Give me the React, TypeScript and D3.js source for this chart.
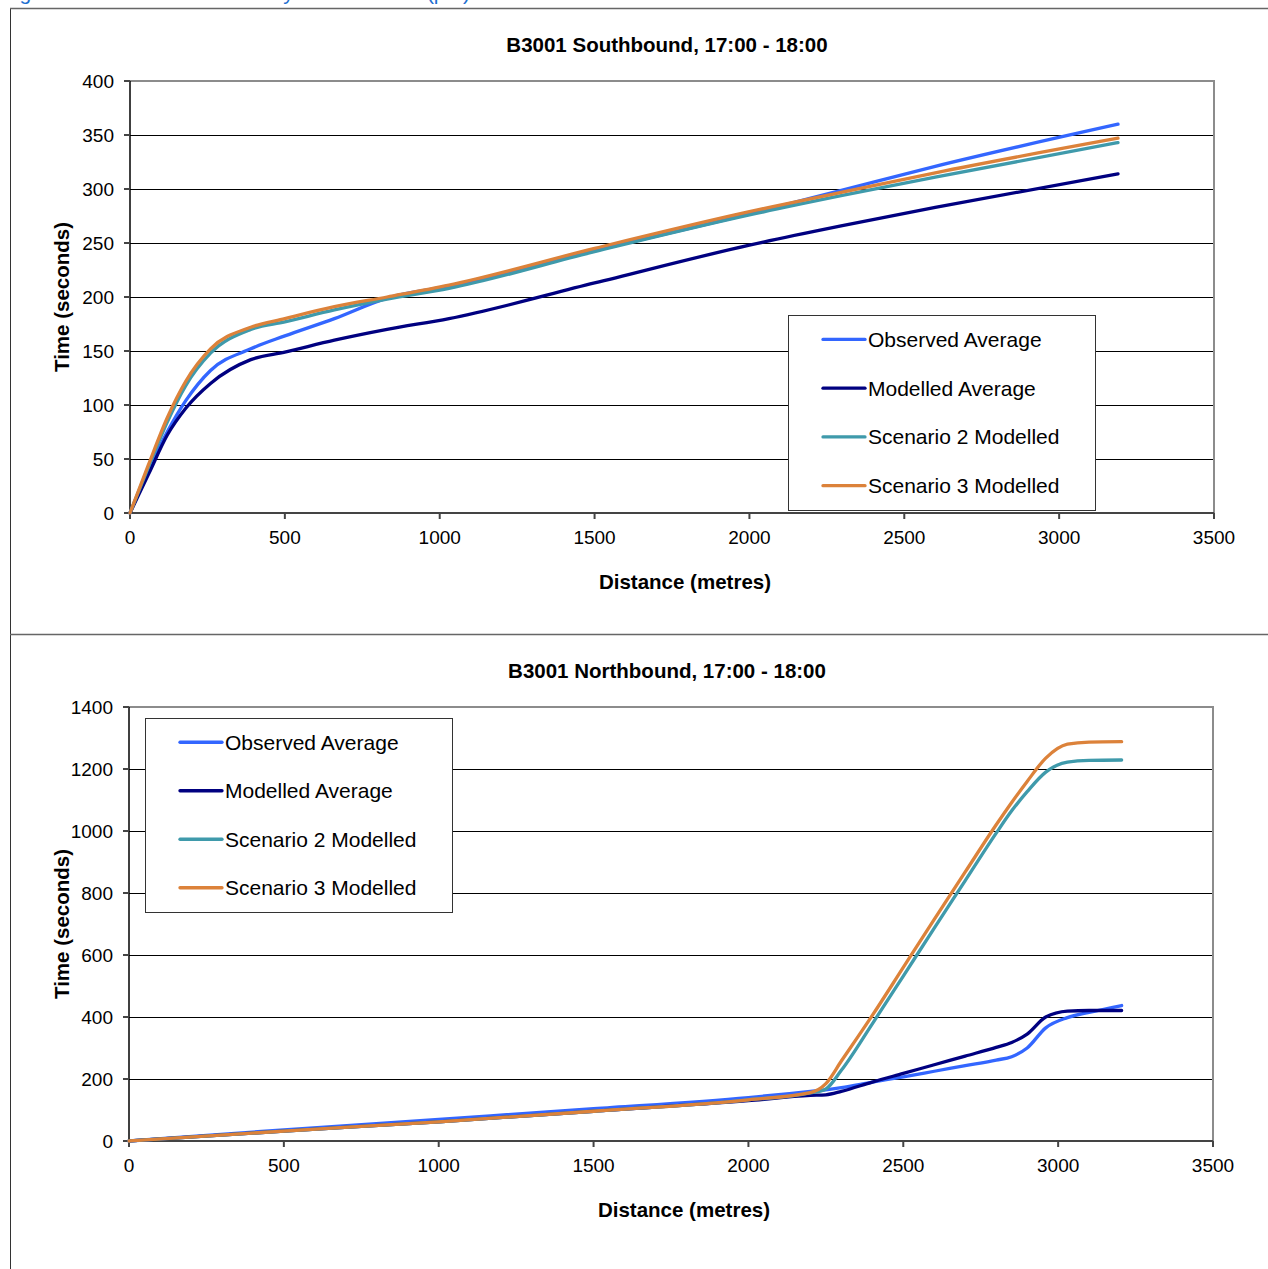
import React from "react";
import * as d3 from "d3";

const seriesNames = ["Observed Average", "Modelled Average", "Scenario 2 Modelled", "Scenario 3 Modelled"];
const seriesColors = ["#3366ff", "#000080", "#3f9aab", "#dc823a"];

// Southbound
const sbTitle = "B3001 Southbound, 17:00 - 18:00";
const sbDist = [0, 60, 120, 180, 260, 390, 500, 660, 830, 1030, 1500, 2000, 2300, 2600, 3190];
const sbObserved = [0, 40, 75, 104, 132, 152, 164, 180, 199, 210, 243, 277, 299, 321, 360];
const sbModelled = [0, 36, 72, 97, 120, 142, 149, 160, 170, 180, 213, 248, 266, 283, 314];
const sbScen2 = [0, 43, 84, 118, 148, 170, 177, 188, 198, 208, 242, 276, 294, 311, 343];
const sbScen3 = [0, 45, 88, 122, 152, 172, 180, 191, 200, 211, 245, 279, 297, 315, 347];
const sbYTicks = [0, 50, 100, 150, 200, 250, 300, 350, 400];

// Northbound
const nbTitle = "B3001 Northbound, 17:00 - 18:00";
const nbDist = [0, 500, 1000, 1500, 2000, 2200, 2250, 2300, 2400, 2500, 2600, 2700, 2800, 2850, 2900, 2960, 3030, 3100, 3205];
const nbObserved = [0, 36, 70, 104, 140, 160, 165, 172, 190, 207, 225, 243, 261, 272, 300, 365, 398, 415, 437];
const nbModelled = [0, 32, 62, 96, 130, 147, 149, 160, 190, 218, 246, 274, 302, 318, 345, 400, 419, 421, 421];
const nbScen2 = [0, 32, 62, 96, 133, 155, 168, 228, 378, 532, 687, 840, 993, 1065, 1127, 1190, 1222, 1228, 1229];
const nbScen3 = [0, 32, 62, 96, 133, 156, 185, 258, 405, 560, 715, 868, 1020, 1092, 1160, 1235, 1280, 1287, 1288];
const nbYTicks = [0, 200, 400, 600, 800, 1000, 1200, 1400];

const xTicks = [0, 500, 1000, 1500, 2000, 2500, 3000, 3500];

const FONT = "'Liberation Sans', Arial, sans-serif";

type ChartProps = {
  title: string;
  dist: number[];
  series: number[][];
  yTicks: number[];
  yMax: number;
  frameTop: number;
  plot: { x0: number; x1: number; y0: number; y1: number };
  titleY: number;
  titleX: number;
  xLabelX: number;
  xLabelY: number;
  legend: { x: number; y: number; w: number; h: number };
};

function Chart({ title, dist, series, yTicks, yMax, frameTop, plot, titleY, titleX, xLabelX, xLabelY, legend }: ChartProps) {
  const x = d3.scaleLinear().domain([0, 3500]).range([plot.x0, plot.x1]);
  const y = d3.scaleLinear().domain([0, yMax]).range([plot.y1, plot.y0]);
  const line = d3
    .line<[number, number]>()
    .x((d) => x(d[0]))
    .y((d) => y(d[1]))
    .curve(d3.curveMonotoneX);
  const cy = (plot.y0 + plot.y1) / 2;
  const rowH = legend.h / 4;
  return (
    <g>
      {/* frame */}
      <line x1={10.5} x2={10.5} y1={frameTop} y2={frameTop + 640} stroke="#333" strokeWidth={1} />
      <line x1={10} x2={1268} y1={frameTop + 0.5} y2={frameTop + 0.5} stroke="#666" strokeWidth={1.5} />
      <text x={titleX} y={titleY} textAnchor="middle" fontFamily={FONT} fontWeight="bold" fontSize={20.5} fill="#000">
        {title}
      </text>
      {/* gridlines */}
      {yTicks.slice(1, -1).map((t) => (
        <line key={"g" + t} x1={plot.x0} x2={plot.x1} y1={Math.round(y(t)) + 0.5} y2={Math.round(y(t)) + 0.5} stroke="#000" strokeWidth={1} />
      ))}
      {/* plot border top/right */}
      <line x1={plot.x0} x2={plot.x1} y1={plot.y0} y2={plot.y0} stroke="#8c8c8c" strokeWidth={2} />
      <line x1={plot.x1} x2={plot.x1} y1={plot.y0 - 1} y2={plot.y1} stroke="#8c8c8c" strokeWidth={2} />
      {/* axes */}
      <line x1={plot.x0} x2={plot.x0} y1={plot.y0} y2={plot.y1} stroke="#000" strokeWidth={1.5} />
      <line x1={plot.x0 - 6} x2={plot.x1} y1={plot.y1} y2={plot.y1} stroke="#444" strokeWidth={2} />
      {yTicks.map((t) => (
        <g key={"y" + t}>
          <line x1={plot.x0 - 6} x2={plot.x0} y1={y(t)} y2={y(t)} stroke="#444" strokeWidth={2} />
          <text x={plot.x0 - 16} y={y(t) + 6.5} textAnchor="end" fontFamily={FONT} fontSize={19} fill="#000">
            {t}
          </text>
        </g>
      ))}
      {xTicks.map((t) => (
        <g key={"x" + t}>
          <line x1={x(t)} x2={x(t)} y1={plot.y1} y2={plot.y1 + 6} stroke="#444" strokeWidth={2} />
          <text x={x(t)} y={plot.y1 + 31} textAnchor="middle" fontFamily={FONT} fontSize={19} fill="#000">
            {t}
          </text>
        </g>
      ))}
      <text
        transform={`translate(69,${cy}) rotate(-90)`}
        textAnchor="middle"
        fontFamily={FONT}
        fontWeight="bold"
        fontSize={20.5}
        fill="#000"
      >
        Time (seconds)
      </text>
      <text x={xLabelX} y={xLabelY} textAnchor="middle" fontFamily={FONT} fontWeight="bold" fontSize={20.5} fill="#000">
        Distance (metres)
      </text>
      {/* series */}
      {series.map((vals, i) => (
        <path
          key={"s" + i}
          d={line(dist.map((d, j) => [d, vals[j]] as [number, number])) || ""}
          fill="none"
          stroke={seriesColors[i]}
          strokeWidth={3.3}
          strokeLinecap="round"
          strokeLinejoin="round"
        />
      ))}
      {/* legend */}
      <rect x={legend.x + 0.5} y={legend.y + 0.5} width={legend.w} height={legend.h} fill="#fff" stroke="#333" strokeWidth={1} />
      {seriesNames.map((n, i) => {
        const ly = legend.y + rowH * (i + 0.5);
        return (
          <g key={"l" + i}>
            <line x1={legend.x + 35} x2={legend.x + 77} y1={ly} y2={ly} stroke={seriesColors[i]} strokeWidth={3.3} strokeLinecap="round" />
            <text x={legend.x + 80} y={ly + 7.5} fontFamily={FONT} fontSize={21} fill="#000">
              {n}
            </text>
          </g>
        );
      })}
    </g>
  );
}

export default function App() {
  return (
    <svg
      width={1268}
      height={1269}
      style={{ position: "absolute", left: 0, top: 0, background: "#fff" }}
      xmlns="http://www.w3.org/2000/svg"
    >
      <rect x={0} y={0} width={1268} height={1269} fill="#fff" />
      <text x={2} y={0} fontFamily={FONT} fontSize={21} fill="#1f6fd0">
        Figure 5.6: B3001 Link Journey Time Profiles (pm)
      </text>
      <Chart
        title={sbTitle}
        dist={sbDist}
        series={[sbObserved, sbModelled, sbScen2, sbScen3]}
        yTicks={sbYTicks}
        yMax={400}
        frameTop={8}
        plot={{ x0: 130, x1: 1214, y0: 81, y1: 513 }}
        titleX={667}
        titleY={52}
        xLabelX={685}
        xLabelY={589}
        legend={{ x: 788, y: 315, w: 307, h: 195 }}
      />
      <Chart
        title={nbTitle}
        dist={nbDist}
        series={[nbObserved, nbModelled, nbScen2, nbScen3]}
        yTicks={nbYTicks}
        yMax={1400}
        frameTop={634}
        plot={{ x0: 129, x1: 1213, y0: 707, y1: 1141 }}
        titleX={667}
        titleY={678}
        xLabelX={684}
        xLabelY={1217}
        legend={{ x: 145, y: 718, w: 307, h: 194 }}
      />
    </svg>
  );
}
